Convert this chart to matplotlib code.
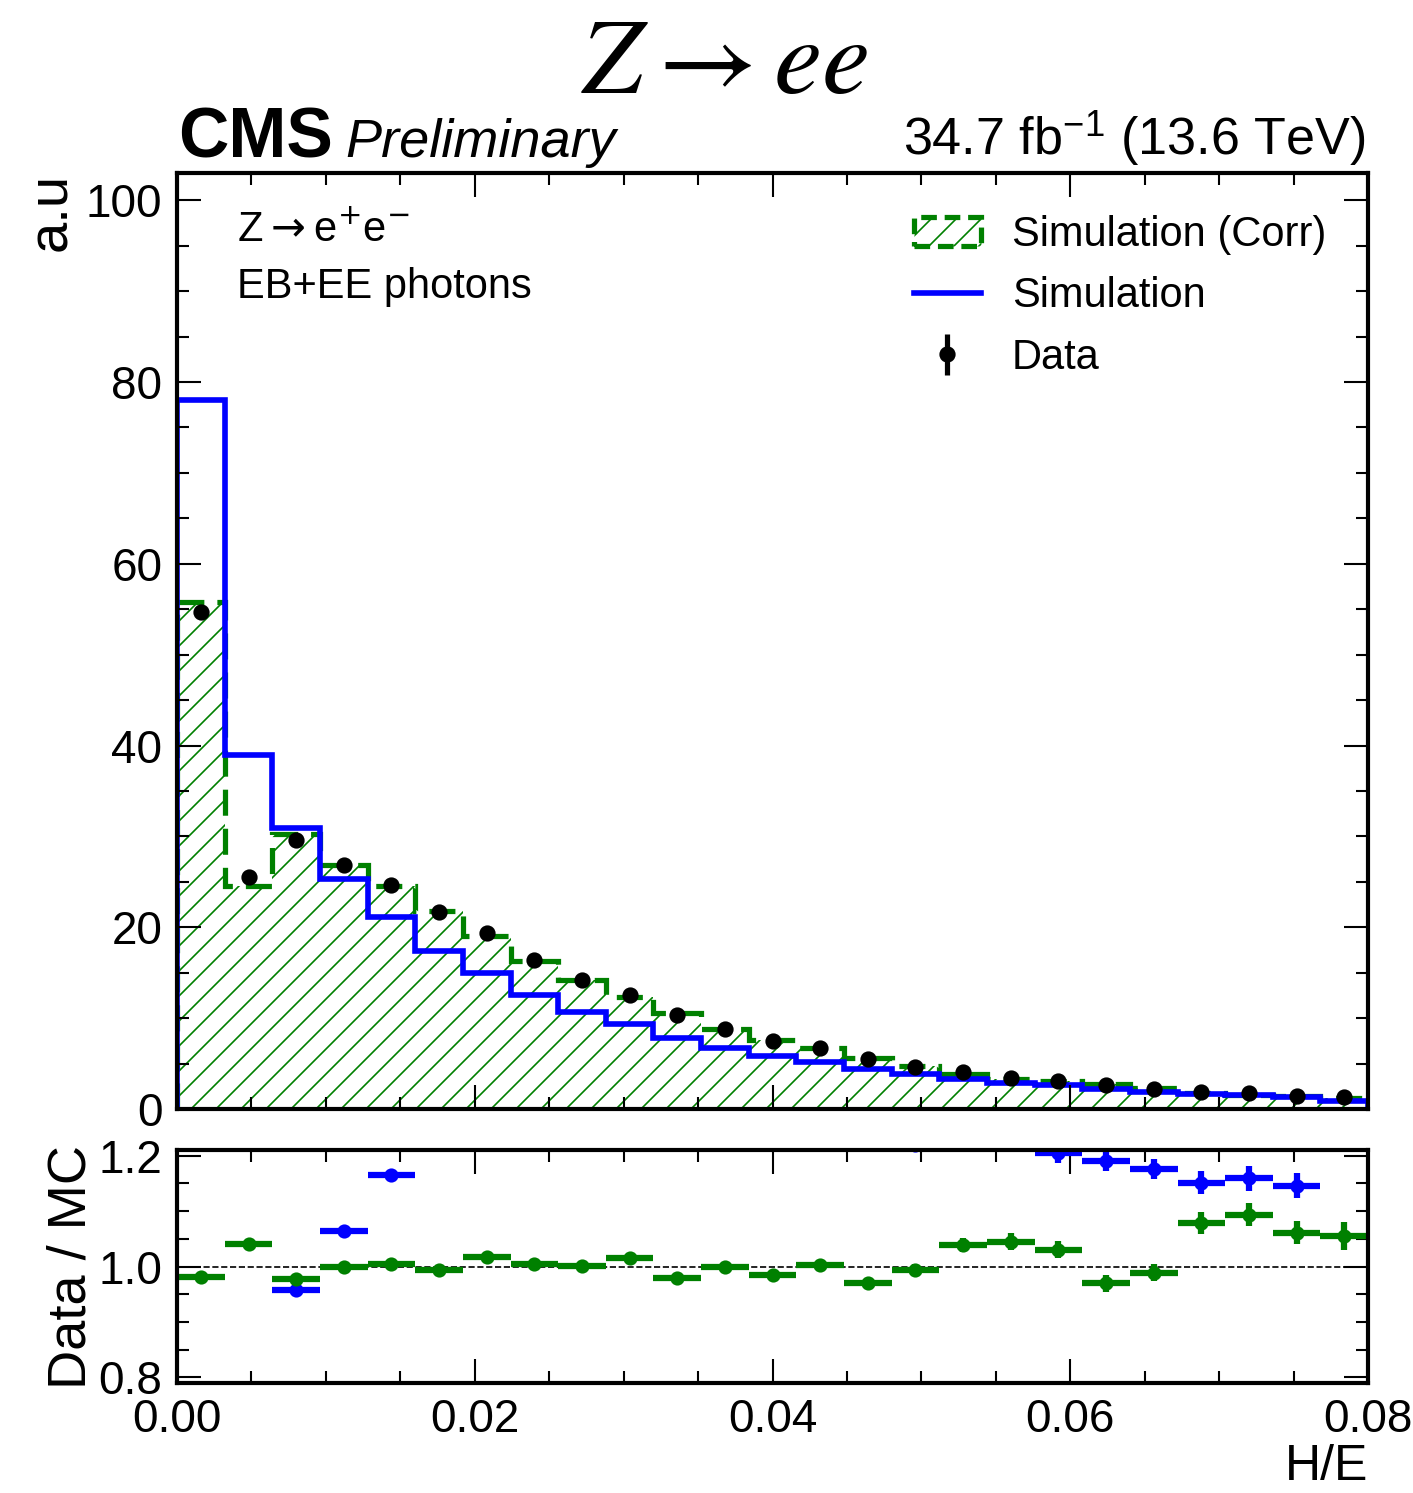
import numpy as np
import matplotlib
matplotlib.use("Agg")
import matplotlib.pyplot as plt
from matplotlib.patches import Patch
from matplotlib.lines import Line2D
from matplotlib.ticker import MultipleLocator, FormatStrFormatter

plt.rcParams['font.family'] = ['Liberation Sans', 'DejaVu Sans']
plt.rcParams['mathtext.fontset'] = 'custom'
plt.rcParams['mathtext.rm'] = 'Liberation Sans'
plt.rcParams['mathtext.it'] = 'Liberation Sans:italic'
plt.rcParams['mathtext.bf'] = 'Liberation Sans:bold'
plt.rcParams['hatch.linewidth'] = 0.8

# H/E binning: 25 bins between 0 and 0.08
n_bins = 25
x_min, x_max = 0.0, 0.08

# histogram contents (a.u.)
data_vals = [54.7, 25.5, 29.6, 26.9, 24.6, 21.7, 19.4, 16.4, 14.2, 12.5,
             10.3, 8.8, 7.5, 6.7, 5.5, 4.66, 4.04, 3.45, 3.12, 2.64,
             2.24, 1.91, 1.73, 1.47, 1.29]
sim_vals = [78.0, 39.0, 30.9, 25.3, 21.1, 17.4, 15.0, 12.5, 10.7, 9.4,
            7.8, 6.75, 5.87, 5.2, 4.37, 3.82, 3.27, 2.82, 2.59, 2.217,
            1.905, 1.659, 1.493, 1.283, 0.88]
# data / corrected simulation
ratio_corr = [0.981, 1.040, 0.977, 1.000, 1.004, 0.994, 1.018, 1.004, 1.001, 1.016,
              0.979, 0.999, 0.984, 1.003, 0.971, 0.994, 1.039, 1.045, 1.030, 0.970,
              0.989, 1.078, 1.093, 1.061, 1.055]
# relative stat. uncertainty on data
data_rel_err = [0.002, 0.003, 0.003, 0.003, 0.003, 0.004, 0.004, 0.005, 0.005, 0.006,
                0.006, 0.007, 0.008, 0.008, 0.009, 0.010, 0.012, 0.014, 0.015, 0.016,
                0.016, 0.018, 0.019, 0.020, 0.024]

edges = np.linspace(x_min, x_max, n_bins + 1)
centers = 0.5 * (edges[1:] + edges[:-1])
half_w = 0.5 * (edges[1] - edges[0])

data = np.array(data_vals)
sim = np.array(sim_vals)
r_corr = np.array(ratio_corr)
sim_corr = data / r_corr
rel_err = np.array(data_rel_err)
r_sim = data / sim

W, H, DPI = 1413, 1493, 150
fig = plt.figure(figsize=(W / DPI, H / DPI), dpi=DPI)
ax = fig.add_axes([0.1253, 0.2572, 0.8429, 0.6269])
axr = fig.add_axes([0.1253, 0.0737, 0.8429, 0.156])

green = '#008000'
blue = '#0000ff'

# main panel
ax.stairs(sim_corr, edges, baseline=0, fill=True, hatch='//', facecolor='none',
          edgecolor=green, linewidth=0)
ax.stairs(sim_corr, edges, baseline=0, color=green, linewidth=2.5,
          linestyle=(0, (5, 2.5)))
ax.stairs(sim, edges, baseline=0, color=blue, linewidth=2.7)
ax.errorbar(centers, data, yerr=data * rel_err, fmt='o', color='black',
            ms=6.8, elinewidth=2.5, capsize=0)

ax.set_xlim(x_min, x_max)
ax.set_ylim(0, 103)
ax.set_ylabel('a.u', loc='top', fontsize=27, labelpad=4)

# ratio panel
axr.axhline(1.0, color='black', linestyle='--', linewidth=0.8)
axr.errorbar(centers, r_sim, xerr=half_w, yerr=r_sim * rel_err, fmt='o',
             color=blue, ms=5.8, elinewidth=3, capsize=0)
axr.errorbar(centers, r_corr, xerr=half_w, yerr=r_corr * rel_err, fmt='o',
             color=green, ms=5.8, elinewidth=3, capsize=0)
axr.set_xlim(x_min, x_max)
axr.set_ylim(0.79, 1.21)
axr.set_ylabel('Data / MC', fontsize=26, labelpad=1)
axr.set_xlabel('H/E', loc='right', fontsize=24, labelpad=1)

for a in (ax, axr):
    a.xaxis.set_major_locator(MultipleLocator(0.02))
    a.xaxis.set_minor_locator(MultipleLocator(0.005))
    a.tick_params(which='both', direction='in', top=True, right=True,
                  labelsize=22, pad=7)
    a.tick_params(which='major', length=11.5, width=1.0)
    a.tick_params(which='minor', length=5.8, width=1.0)
    for s in a.spines.values():
        s.set_linewidth(2.0)

ax.yaxis.set_major_locator(MultipleLocator(20))
ax.yaxis.set_minor_locator(MultipleLocator(5))
ax.tick_params(labelbottom=False)
axr.yaxis.set_major_locator(MultipleLocator(0.2))
axr.yaxis.set_minor_locator(MultipleLocator(0.05))
axr.yaxis.set_major_formatter(FormatStrFormatter('%.1f'))
axr.xaxis.set_major_formatter(FormatStrFormatter('%.2f'))

# legend
h_corr = Patch(facecolor='none', edgecolor=green, hatch='//', linewidth=2.5,
               linestyle=(0, (3, 1.5)))
h_sim = Line2D([], [], color=blue, linewidth=2.7)
h_data = ax.errorbar([], [], yerr=[], fmt='o', color='black', ms=6.8,
                     elinewidth=2.5, capsize=0)
ax.legend([h_corr, h_sim, h_data], ['Simulation (Corr)', 'Simulation', 'Data'],
          loc='upper right', frameon=False, fontsize=20, handlelength=1.6,
          handletextpad=0.75, labelspacing=0.52, borderaxespad=0.6)

# annotations
ax.text(0.0504, 0.927, r'Z$\rightarrow$e$^{+}$e$^{-}$', transform=ax.transAxes,
        fontsize=20, va='baseline', math_fontfamily='dejavusans')
ax.text(0.0504, 0.866, 'EB+EE photons', transform=ax.transAxes,
        fontsize=20, va='baseline')

fig.text(178 / W, 1 - 157 / H, 'CMS', fontsize=33.5, fontweight='bold',
         va='baseline')
fig.text(345 / W, 1 - 157 / H, 'Preliminary', fontsize=26, style='italic',
         va='baseline')
fig.text(1365 / W, 1 - 155 / H, r'34.7 fb$^{-1}$ (13.6 TeV)', fontsize=25,
         ha='right', va='baseline')
fig.text(725 / W, 1 - 93 / H, r'$Z \rightarrow ee$', fontsize=52,
         ha='center', va='baseline', math_fontfamily='stix')

fig.savefig('out.png', dpi=DPI)
